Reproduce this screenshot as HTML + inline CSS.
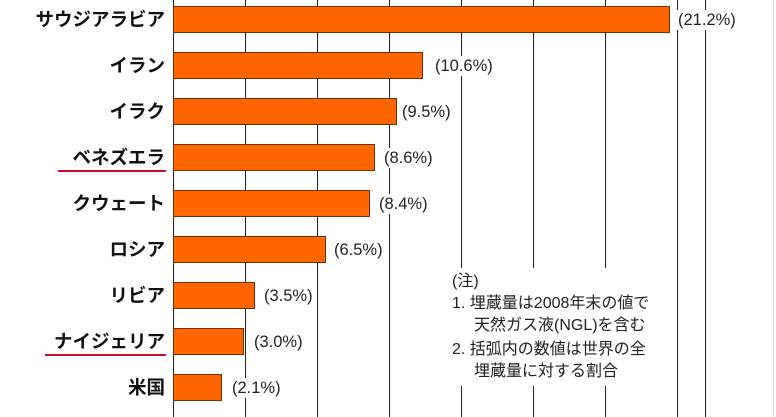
<!DOCTYPE html>
<html><head><meta charset="utf-8"><style>
body{margin:0;width:776px;height:417px;background:#fff;position:relative;overflow:hidden;font-family:"Liberation Sans","Noto Sans CJK JP",sans-serif}
.g{position:absolute;top:0;height:417px;width:1px;background:#222}
.bar{position:absolute;left:173px;height:27px;background:#ff6600;border:1px solid #6b3000;box-sizing:border-box}
.lab{position:absolute;right:611px;font-size:18.5px;font-weight:bold;color:#111;line-height:22px;white-space:nowrap}
.val{position:absolute;font-size:16.5px;color:#222;background:#fff;line-height:20px;padding:0 2px;white-space:nowrap}
.ul{position:absolute;height:2px;background:#c8102e}
.note{position:absolute;left:444px;top:268px;width:225px;height:118px;background:#fff;font-size:16px;color:#222;line-height:22px}
</style></head><body>
<div class="g" style="left:173px"></div>
<div class="g" style="left:245px"></div>
<div class="g" style="left:317px"></div>
<div class="g" style="left:389px"></div>
<div class="g" style="left:461px"></div>
<div class="g" style="left:533px"></div>
<div class="g" style="left:605px"></div>
<div class="g" style="left:677px"></div>
<div class="g" style="left:705px"></div>
<div class="g" style="left:773px;background:#ccc"></div>

<div class="bar" style="top:6px;width:497px"></div>
<div class="bar" style="top:52px;width:250px"></div>
<div class="bar" style="top:98px;width:224px"></div>
<div class="bar" style="top:144px;width:202px"></div>
<div class="bar" style="top:190px;width:197px"></div>
<div class="bar" style="top:236px;width:153px"></div>
<div class="bar" style="top:282px;width:82px"></div>
<div class="bar" style="top:328px;width:71px"></div>
<div class="bar" style="top:374px;width:49px"></div>

<div class="lab" style="top:9px">サウジアラビア</div>
<div class="lab" style="top:55px">イラン</div>
<div class="lab" style="top:101px">イラク</div>
<div class="lab" style="top:147px">ベネズエラ</div>
<div class="lab" style="top:193px">クウェート</div>
<div class="lab" style="top:239px">ロシア</div>
<div class="lab" style="top:285px">リビア</div>
<div class="lab" style="top:331px">ナイジェリア</div>
<div class="lab" style="top:377px">米国</div>
<div class="ul" style="left:58px;top:170px;width:108px"></div>
<div class="ul" style="left:45px;top:354px;width:121px"></div>

<div class="val" style="left:676px;top:10px">(21.2%)</div>
<div class="val" style="left:433px;top:56px">(10.6%)</div>
<div class="val" style="left:400px;top:102px">(9.5%)</div>
<div class="val" style="left:382px;top:148px">(8.6%)</div>
<div class="val" style="left:377px;top:194px">(8.4%)</div>
<div class="val" style="left:332px;top:240px">(6.5%)</div>
<div class="val" style="left:262px;top:286px">(3.5%)</div>
<div class="val" style="left:252px;top:332px">(3.0%)</div>
<div class="val" style="left:230px;top:378px">(2.1%)</div>

<div class="note">
<div style="position:absolute;left:8px;top:3px">(注)</div>
<div style="position:absolute;left:8px;top:25px;white-space:nowrap">1. 埋蔵量は2008年末の値で</div>
<div style="position:absolute;left:30px;top:47px;white-space:nowrap">天然ガス液(NGL)を含む</div>
<div style="position:absolute;left:8px;top:71px;white-space:nowrap">2. 括弧内の数値は世界の全</div>
<div style="position:absolute;left:30px;top:93px;white-space:nowrap">埋蔵量に対する割合</div>
</div>
</body></html>
